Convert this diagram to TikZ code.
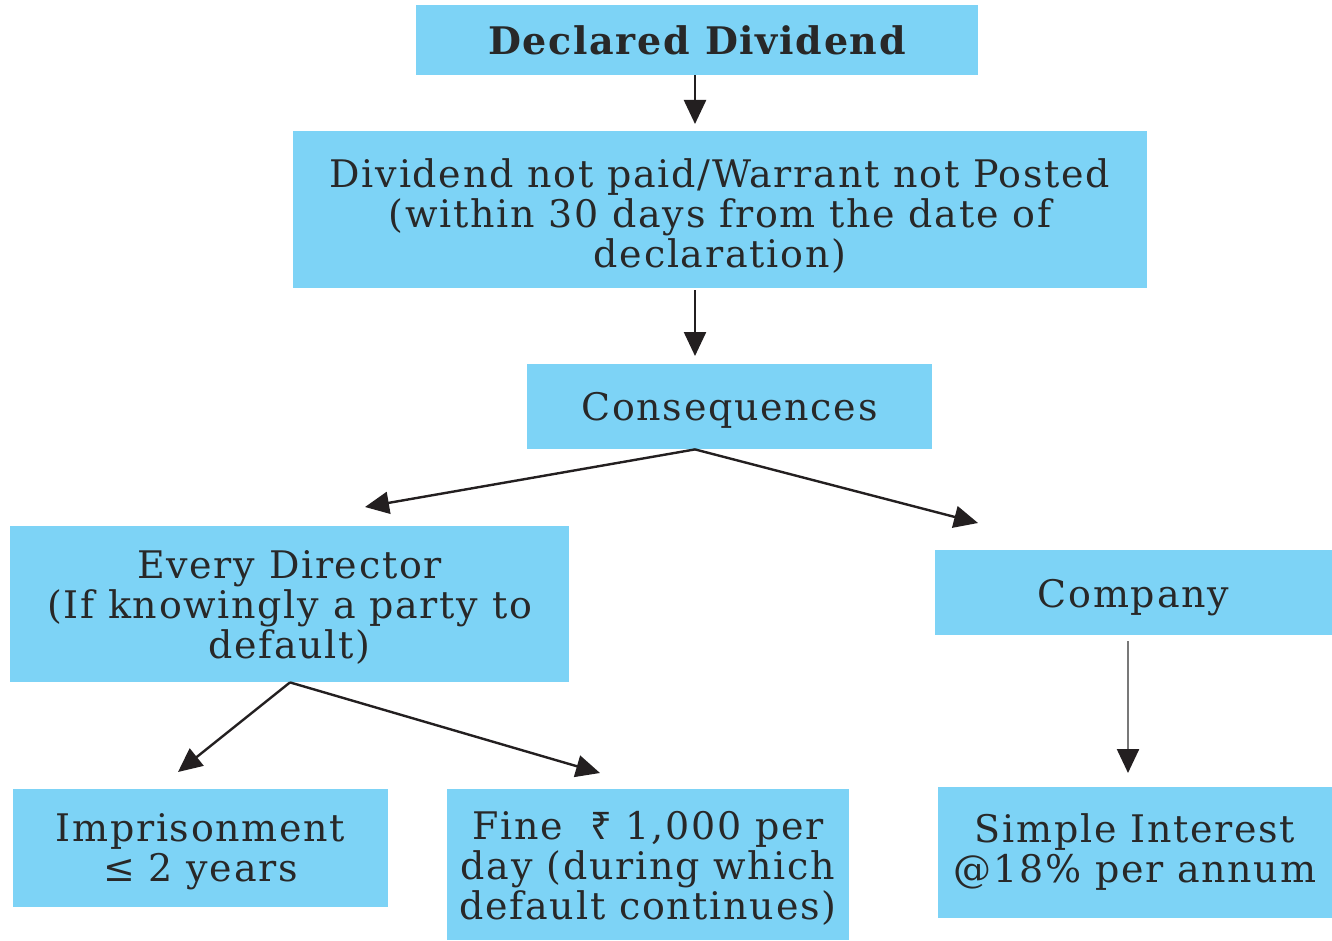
\documentclass[tikz,border=0pt]{standalone}
\usepackage{fontspec}
\setmainfont{DejaVu Serif}[LetterSpace=4.5]
\newfontfamily\rupeefont{Noto Sans}
\usetikzlibrary{arrows.meta}
\definecolor{boxblue}{RGB}{125,211,246}
\definecolor{txt}{RGB}{40,40,40}
\definecolor{arrdark}{RGB}{35,31,32}
\definecolor{arrgray}{RGB}{120,120,120}
\begin{document}
\begin{tikzpicture}[x=0.5pt,y=-0.5pt,
  box/.style={fill=boxblue,draw=none,inner sep=0pt},
  lbl/.style={inner sep=0pt,align=center,text=txt,font=\fontsize{19}{20}\selectfont},
  arr/.style={draw=arrdark,line width=1.2pt,-{Triangle[length=12pt,width=11pt]}}]
\useasboundingbox (0,0) rectangle (1332,941);
\fill[white] (0,0) rectangle (1332,941);

\node[box,minimum width=281pt,minimum height=35pt] (n1) at (697,40) {};
\node[box,minimum width=427pt,minimum height=78.5pt] (n2) at (720,209.5) {};
\node[box,minimum width=202.5pt,minimum height=42.5pt] (n3) at (729.5,406.5) {};
\node[box,minimum width=279.5pt,minimum height=78pt] (n4) at (289.5,604) {};
\node[box,minimum width=198.5pt,minimum height=42.5pt] (n5) at (1133.5,592.5) {};
\node[box,minimum width=187.5pt,minimum height=59pt] (n6) at (200.5,848) {};
\node[box,minimum width=201pt,minimum height=75.5pt] (n7) at (648,864.5) {};
\node[box,minimum width=197pt,minimum height=65.5pt] (n8) at (1135,852.5) {};

\node[lbl,font=\fontsize{19}{20}\bfseries\selectfont] (l1) at (n1) {Declared Dividend};
\node[lbl] (l2) at ([yshift=-3.5pt]n2.center) {Dividend not paid/Warrant not Posted\\(within 30 days from the date of\\declaration)};
\node[lbl] (l3) at ([yshift=-2pt]n3.center) {Consequences};
\node[lbl] (l4) at ([yshift=-1.5pt]n4.center) {Every Director\\(If knowingly a party to\\default)};
\node[lbl] (l5) at ([yshift=-2.5pt]n5.center) {Company};
\node[lbl] (l6) at ([yshift=-2pt]n6.center) {Imprisonment\\≤ 2 years};
\node[lbl] (l7) at ([yshift=-2pt]n7.center) {Fine \ {\rupeefont ₹} 1,000 per\\day (during which\\default continues)};
\node[lbl] (l8) at (n8) {Simple Interest\\@18\% per annum};

\coordinate (t1) at (695,124);
\coordinate (t2) at (695,356);
\coordinate (s3) at (695,449);
\coordinate (t3) at (365,507);
\coordinate (t4) at (978,523);
\coordinate (s5) at (290,682);
\coordinate (t5) at (178,772);
\coordinate (t6) at (600,773);
\coordinate (s7) at (1128,641);
\coordinate (t7) at (1128,773);

\draw[arr] (n1.south -| t1) -- (t1);
\draw[arr] ([yshift=-1pt]n2.south -| t2) -- (t2);
\draw[arr] (n3.south -| s3) -- (t3);
\draw[arr] (n3.south -| s3) -- (t4);
\draw[arr] (n4.south -| s5) -- (t5);
\draw[arr] (n4.south -| s5) -- (t6);
\draw[arr,draw=arrgray,-{Triangle[length=12pt,width=11pt,color=arrdark]}] (s7) -- (t7);
\end{tikzpicture}
\end{document}
